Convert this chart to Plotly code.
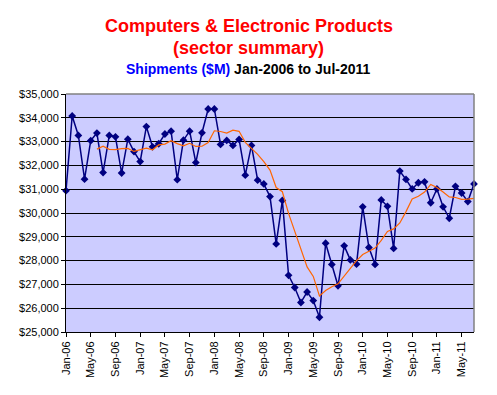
import plotly.graph_objects as go
import pandas as pd

months = ["Jan-06","Feb-06","Mar-06","Apr-06","May-06","Jun-06","Jul-06","Aug-06","Sep-06","Oct-06","Nov-06","Dec-06",
          "Jan-07","Feb-07","Mar-07","Apr-07","May-07","Jun-07","Jul-07","Aug-07","Sep-07","Oct-07","Nov-07","Dec-07",
          "Jan-08","Feb-08","Mar-08","Apr-08","May-08","Jun-08","Jul-08","Aug-08","Sep-08","Oct-08","Nov-08","Dec-08",
          "Jan-09","Feb-09","Mar-09","Apr-09","May-09","Jun-09","Jul-09","Aug-09","Sep-09","Oct-09","Nov-09","Dec-09",
          "Jan-10","Feb-10","Mar-10","Apr-10","May-10","Jun-10","Jul-10","Aug-10","Sep-10","Oct-10","Nov-10","Dec-10",
          "Jan-11","Feb-11","Mar-11","Apr-11","May-11","Jun-11","Jul-11"]

shipments = [30940, 34075, 33260, 31420, 33040, 33360, 31700, 33260, 33200, 31680, 33100, 32580,
             32160, 33630, 32780, 32910, 33320, 33440, 31400, 33060, 33440, 32120, 33370, 34370,
             34370, 32880, 33050, 32840, 33090, 31590, 32840, 31380, 31220, 30690, 28700, 30530,
             27380, 26870, 26240, 26680, 26320, 25620, 28730, 27840, 26940, 28620, 28030, 27850,
             30260, 28550, 27840, 30550, 30280, 28510, 31760, 31410, 31010, 31270, 31310, 30430,
             31010, 30260, 29780, 31120, 30840, 30480, 31220]

tick_labels = ["Jan-06","May-06","Sep-06","Jan-07","May-07","Sep-07","Jan-08","May-08","Sep-08",
               "Jan-09","May-09","Sep-09","Jan-10","May-10","Sep-10","Jan-11","May-11"]

y_ticks = [25000, 26000, 27000, 28000, 29000, 30000, 31000, 32000, 33000, 34000, 35000]
y_tick_labels = ["$25,000", "$26,000", "$27,000", "$28,000", "$29,000", "$30,000",
                 "$31,000", "$32,000", "$33,000", "$34,000", "$35,000"]

# 6-period moving average trendline (as in the original chart)
moving_avg = pd.Series(shipments).rolling(6).mean().tolist()

x_idx = list(range(len(months)))
tick_pos = [months.index(t) for t in tick_labels]

L, R, T, B = 66, 23, 94, 63
W, H = 497, 395
PH = H - T - B
PW = W - L - R

def py(pix):
    return (H - B - pix) / PH

cx = (W / 2 - L) / PW

fig = go.Figure()
fig.add_trace(go.Scatter(
    x=x_idx, y=shipments, mode="lines+markers",
    line=dict(color="#000080", width=1.5),
    marker=dict(symbol="diamond", size=6, color="#000080"),
    cliponaxis=False, hoverinfo="skip", showlegend=False))
fig.add_trace(go.Scatter(
    x=x_idx, y=moving_avg, mode="lines",
    line=dict(color="#FF6600", width=1.2),
    hoverinfo="skip", showlegend=False))

fig.update_layout(
    width=W, height=H,
    margin=dict(l=L, r=R, t=T, b=B),
    paper_bgcolor="white", plot_bgcolor="#CCCCFF",
    font=dict(family="Arial, Liberation Sans, sans-serif", size=11, color="black"),
    annotations=[
        dict(text="<b>Computers &amp; Electronic Products</b>", x=cx, y=py(26),
             xref="paper", yref="paper", showarrow=False, yanchor="middle",
             font=dict(size=18, color="#FF0000")),
        dict(text="<b>(sector summary)</b>", x=cx, y=py(48),
             xref="paper", yref="paper", showarrow=False, yanchor="middle",
             font=dict(size=18, color="#FF0000")),
        dict(text="<b><span style='color:#0000FF'>Shipments ($M)</span> Jan-2006 to Jul-2011</b>",
             x=cx, y=py(69), xref="paper", yref="paper", showarrow=False, yanchor="middle",
             font=dict(size=14, color="black")),
    ],
)

fig.update_xaxes(
    range=[0, 66], tickvals=tick_pos, ticktext=tick_labels, tickangle=-90,
    showgrid=False, zeroline=False,
    showline=True, linecolor="black", linewidth=1,
    ticks="outside", ticklen=4, tickcolor="black", tickfont=dict(size=11))
fig.update_yaxes(
    range=[25000, 35000], tickvals=y_ticks, ticktext=y_tick_labels,
    showgrid=True, gridcolor="black", gridwidth=1, zeroline=False,
    showline=True, linecolor="black", linewidth=1,
    ticks="outside", ticklen=4, tickcolor="black", tickfont=dict(size=11))

# gray border on top and right
fig.add_shape(type="line", xref="paper", yref="paper", x0=0, x1=1, y0=1, y1=1,
              line=dict(color="#808080", width=1.5))
fig.add_shape(type="line", xref="paper", yref="paper", x0=1, x1=1, y0=0, y1=1,
              line=dict(color="#808080", width=1.5))

fig.write_html("out.html", config={"displayModeBar": False},
               post_script="document.body.style.margin='0';document.body.style.overflow='hidden';")
